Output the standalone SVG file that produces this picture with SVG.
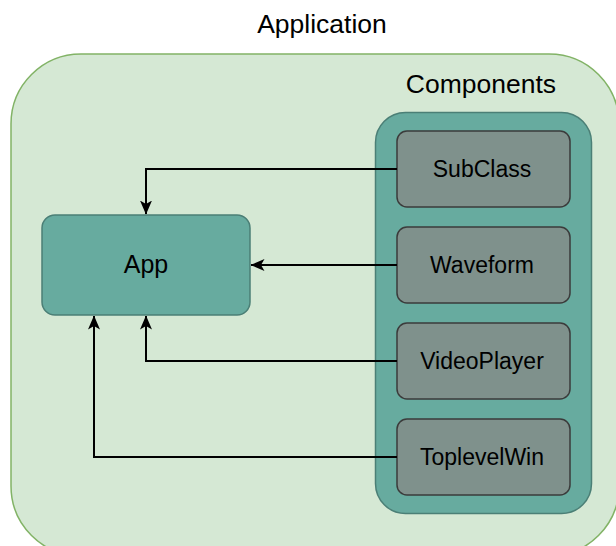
<svg xmlns="http://www.w3.org/2000/svg" width="616" height="546" viewBox="0 0 616 546">
<style>
.t{font-family:"Liberation Sans",Arial,sans-serif;fill:#000;text-anchor:middle}
.comp{fill:#7f918c;stroke:#3b3b3b;stroke-width:1.5}
.conn{fill:none;stroke:#000;stroke-width:2}
</style>
<defs>
<marker id="arr" viewBox="0 0 14 12" refX="13.5" refY="6" markerWidth="14" markerHeight="12" markerUnits="userSpaceOnUse" orient="auto">
<path d="M0,0 L14,6 L0,12 L3.5,6 Z" fill="#000"/>
</marker>
</defs>
<rect width="616" height="546" fill="#fff"/>
<g id="application">
<rect x="11" y="54" width="608" height="502" rx="70" ry="70" fill="#d5e8d4" stroke="#82b366" stroke-width="1.5"/>
<text class="t" x="322" y="33" font-size="26.5">Application</text>
</g>
<g id="components">
<rect x="375.5" y="112.5" width="216" height="401" rx="30" ry="30" fill="#67ab9f" stroke="#4b7f76" stroke-width="1.5"/>
<text class="t" x="481" y="93" font-size="26.5">Components</text>
</g>
<g id="app">
<rect x="42" y="215" width="208" height="100" rx="13" ry="13" fill="#67ab9f" stroke="#4b7f76" stroke-width="1.5"/>
<text class="t" x="146" y="273" font-size="25">App</text>
</g>
<g id="subclass">
<rect class="comp" x="397" y="131" width="173" height="76" rx="10" ry="10"/>
<text class="t" x="482" y="177" font-size="23">SubClass</text>
</g>
<g id="waveform">
<rect class="comp" x="397" y="227" width="173" height="76" rx="10" ry="10"/>
<text class="t" x="482" y="273" font-size="23">Waveform</text>
</g>
<g id="videoplayer">
<rect class="comp" x="397" y="323" width="173" height="76" rx="10" ry="10"/>
<text class="t" x="482" y="369" font-size="23">VideoPlayer</text>
</g>
<g id="toplevelwin">
<rect class="comp" x="397" y="419" width="173" height="76" rx="10" ry="10"/>
<text class="t" x="482" y="465" font-size="23">ToplevelWin</text>
</g>
<g id="connectors">
<path class="conn" d="M397,169 H146 V214" marker-end="url(#arr)"/>
<path class="conn" d="M397,265 H251" marker-end="url(#arr)"/>
<path class="conn" d="M397,361 H146 V316" marker-end="url(#arr)"/>
<path class="conn" d="M397,457 H94 V316" marker-end="url(#arr)"/>
</g>
</svg>
